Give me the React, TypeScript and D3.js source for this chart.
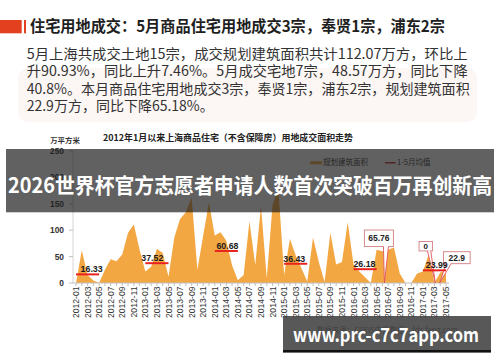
import React from "react";
import * as d3 from "d3";

// ---------- data ----------
const values: number[] = [
  0, 62, 15, 4.6, 0, 25, 45, 41, 54, 95, 111, 63,
  22, 31, 65, 57, 12, 86, 121, 134, 162, 25, 90, 153,
  90, 96, 80, 33, 5, 15, 117, 34, 146, 9, 148, 180,
  15, 84, 52, 28, 3, 86, 40, 2, 95, 35, 40, 115,
  35, 22, 11, 0, 63, 60, 63, 67, 18, 0, 0, 18,
  22, 54, 0, 20, 22.9,
];
const years = [2012, 2013, 2014, 2015, 2016, 2017];
const avgValues = [16.33, 37.52, 60.68, 36.43, 26.18, 23.99];
const avgLabelMonth = [2.7, 1.2, 2.2, 1.75, 1.9, 2.4];
const yTicks = [0, 50, 100, 150, 200, 250];
const monthLabels: string[] = d3
  .utcMonth.range(new Date(Date.UTC(2012, 0, 1)), new Date(Date.UTC(2017, 5, 1)))
  .map(d3.utcFormat("%Y-%m"));

const calloutTexts = ["65.76", "0", "22.9"];
const calloutTargets = [53.35, 62.15, 62.9];
const calloutBoxIdx = [52.4, 60.5, 65.87];
const calloutBoxVal = [84.7, 69.7, 48];

const headline = "住宅用地成交：5月商品住宅用地成交3宗，奉贤1宗，浦东2宗";
const paragraph = [
  "5月上海共成交土地15宗，成交规划建筑面积共计112.07万方，环比上",
  "升90.93%，同比上升7.46%。5月成交宅地7宗，48.57万方，同比下降",
  "40.8%。本月商品住宅用地成交3宗，奉贤1宗，浦东2宗，规划建筑面积",
  "22.9万方，同比下降65.18%。",
];
const chartTitle = "2012年1月以来上海商品住宅（不含保障房）用地成交面积走势";
const unitLabel = "万平方米";
const legendLabels = ["规划建筑面积", "1-5月均值"];
const sourceText = "数据来源：CREIS中指数据，fdc.fang.com";
const bannerText = "2026世界杯官方志愿者申请人数首次突破百万再创新高";
const watermarkText = "www.prc-c7c7app.com";

// ---------- layout ----------
const CJK = "'Noto Sans CJK SC', 'Noto Sans', sans-serif";
const NUM = "'Liberation Sans', Arial, sans-serif";
const ORANGE = "#f3a743";
const RED = "#e8231f";

const calloutSize = [
  { w: 29, h: 16.5, b0: 4.5, b1: 9.5, fs: 8.5 },
  { w: 13.4, h: 9.4, b0: 1.7, b1: 5, fs: 8 },
  { w: 26.7, h: 12, b0: -10.7, b1: -5.7, fs: 8.5 },
];

export default function App() {
  const x = d3.scaleLinear().domain([0, 64]).range([76, 446]);
  const y = d3.scaleLinear().domain([0, 250]).range([283, 151]);

  const area = d3
    .area<number>()
    .x((_, i) => x(i))
    .y0(y(0))
    .y1((d) => y(d))
    .curve(d3.curveLinear);

  const paraLens = [441, 441, 443, null];

  return (
    <svg
      width={500}
      height={362}
      style={{ position: "absolute", left: 0, top: 0, background: "#fff", display: "block" }}
    >
      <rect x={0} y={0} width={500} height={362} fill="#fff" />
      {/* header */}
      <rect x={0} y={20} width={21.7} height={13.3} fill="#e2401f" />
      <rect x={24} y={20} width={2} height={13.3} fill="#e2401f" />
      <text
        x={30}
        y={32.2}
        fontFamily={CJK}
        fontWeight={700}
        fontSize={15.5}
        fill="#1f1f1f"
        textLength={415}
        lengthAdjust="spacingAndGlyphs"
      >
        {headline}
      </text>
      <rect x={18} y={68} width={459} height={54} rx={10} fill="#fcf6f5" />
      {paragraph.map((line, i) => (
        <text
          key={i}
          x={26.7}
          y={58.5 + i * 17.6}
          fontFamily={CJK}
          fontSize={14}
          fill="#333"
          {...(paraLens[i] ? { textLength: paraLens[i], lengthAdjust: "spacingAndGlyphs" } : {})}
        >
          {line}
        </text>
      ))}

      {/* chart titles */}
      <text x={228} y={140.8} textAnchor="middle" fontFamily={CJK} fontWeight={700} fontSize={9} fill="#222"
        textLength={250} lengthAdjust="spacingAndGlyphs">
        {chartTitle}
      </text>
      <text x={65} y={142.6} textAnchor="middle" fontFamily={CJK} fontWeight={700} fontSize={7.4} fill="#333">
        {unitLabel}
      </text>

      {/* y axis */}
      <line x1={73} x2={73} y1={y(250)} y2={y(0)} stroke="#d4d4d4" strokeWidth={1} />
      {yTicks.map((t) => (
        <g key={t}>
          <line x1={69} x2={73} y1={y(t)} y2={y(t)} stroke="#bfbfbf" />
          <text x={64} y={y(t)} dy="0.35em" textAnchor="end" fontFamily={NUM} fontWeight={700} fontSize={8.4} fill="#333">
            {t}
          </text>
        </g>
      ))}

      {/* area */}
      <path d={area(values) || ""} fill={ORANGE} />

      {/* x axis */}
      <line x1={73} x2={449} y1={y(0)} y2={y(0)} stroke="#bfbfbf" />
      {monthLabels.map((m, i) => (
        <g key={m}>
          <line x1={x(i)} x2={x(i)} y1={y(0)} y2={y(0) + 3} stroke="#bfbfbf" />
          {i % 2 === 0 && (
            <text
              transform={`translate(${x(i)},${y(0) + 3.5}) rotate(-90)`}
              textAnchor="end"
              dy="0.35em"
              fontFamily={NUM}
              fontSize={8.6}
              fill="#333"
            >
              {m}
            </text>
          )}
        </g>
      ))}

      {/* callouts */}
      {calloutTexts.map((t, i) => {
        const s = calloutSize[i];
        const cx = x(calloutBoxIdx[i]);
        const cy = y(calloutBoxVal[i]);
        const bottom = cy + s.h / 2;
        const tx = x(calloutTargets[i]);
        const ty = y(0);
        return (
          <g key={t}>
            <path
              d={`M${cx + s.b0},${bottom} L${tx},${ty} L${cx + s.b1},${bottom}`}
              fill="#fff"
              stroke="#e0555a"
              strokeWidth={0.9}
            />
            <rect x={cx - s.w / 2} y={cy - s.h / 2} width={s.w} height={s.h} fill="#fff" stroke="#d98a8d" strokeWidth={1} />
            <line x1={cx + s.b0 + 0.5} x2={cx + s.b1 - 0.5} y1={bottom} y2={bottom} stroke="#fff" strokeWidth={1.2} />
            <text x={cx} y={cy} dy="0.36em" textAnchor="middle" fontFamily={NUM} fontWeight={700} fontSize={s.fs} fill="#222">
              {t}
            </text>
          </g>
        );
      })}

      {/* 1-5 month averages */}
      {years.map((yr, k) => (
        <g key={yr}>
          <line x1={x(k * 12)} x2={x(k * 12 + 4)} y1={y(avgValues[k])} y2={y(avgValues[k])} stroke={RED} strokeWidth={2} />
          <text
            x={x(k * 12 + avgLabelMonth[k])}
            y={y(avgValues[k]) - 2}
            textAnchor="middle"
            fontFamily={NUM}
            fontWeight={700}
            fontSize={8.8}
            fill="#1a1a1a"
          >
            {avgValues[k].toFixed(2)}
          </text>
        </g>
      ))}

      {/* legend */}
      <rect x={310} y={161.3} width={12} height={3} fill={ORANGE} />
      <text x={323} y={162.8} dy="0.35em" fontFamily={CJK} fontSize={7.5} fill="#333">{legendLabels[0]}</text>
      <line x1={385} x2={395.5} y1={162.8} y2={162.8} stroke="#c0181b" strokeWidth={1.3} />
      <text x={397} y={162.8} dy="0.35em" fontFamily={CJK} fontSize={7.5} fill="#333">{legendLabels[1]}</text>

      {/* source */}
      <text x={316.7} y={330} dy="0.35em" fontFamily={CJK} fontSize={7.5} fill="#555">{sourceText}</text>

      {/* overlay banner */}
      <rect x={6} y={149} width={488} height={63.3} fill="rgba(30,30,30,0.7)" />
      <text
        x={250}
        y={185}
        dy="0.36em"
        textAnchor="middle"
        fontFamily={CJK}
        fontWeight={700}
        fontSize={21}
        fill="#fff"
        textLength={484}
        lengthAdjust="spacingAndGlyphs"
      >
        {bannerText}
      </text>

      {/* watermark banner */}
      <rect x={283} y={316} width={208} height={34.3} fill="rgba(60,60,60,0.86)" />
      <rect x={283} y={350} width={208} height={2.6} fill="#111" />
      <text
        x={386}
        y={335.5}
        dy="0.36em"
        textAnchor="middle"
        fontFamily={CJK}
        fontWeight={700}
        fontSize={19}
        fill="#fff"
        textLength={186}
        lengthAdjust="spacingAndGlyphs"
      >
        {watermarkText}
      </text>
    </svg>
  );
}
